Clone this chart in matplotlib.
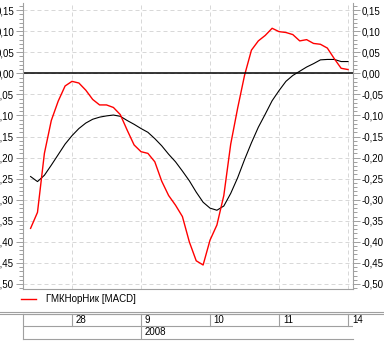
import matplotlib
matplotlib.use("Agg")
import matplotlib.pyplot as plt
from matplotlib.lines import Line2D
from matplotlib.ticker import MultipleLocator, FuncFormatter

# données (une valeur par séance)
macd = [-0.368, -0.330, -0.190, -0.112, -0.066, -0.030, -0.019, -0.023, -0.040, -0.062,
        -0.075, -0.075, -0.081, -0.098, -0.135, -0.170, -0.186, -0.190, -0.210, -0.256,
        -0.290, -0.313, -0.340, -0.400, -0.445, -0.455, -0.396, -0.360, -0.290, -0.168,
        -0.083, -0.005, 0.055, 0.077, 0.090, 0.107, 0.099, 0.097, 0.092, 0.077,
        0.080, 0.071, 0.069, 0.060, 0.035, 0.012, 0.009]
signal = [-0.245, -0.257, -0.242, -0.218, -0.193, -0.168, -0.148, -0.131, -0.118, -0.109,
          -0.104, -0.101, -0.099, -0.102, -0.112, -0.121, -0.131, -0.140, -0.155, -0.172,
          -0.192, -0.210, -0.232, -0.255, -0.282, -0.306, -0.320, -0.325, -0.315, -0.285,
          -0.248, -0.205, -0.165, -0.128, -0.097, -0.065, -0.041, -0.019, -0.005, 0.005,
          0.015, 0.023, 0.032, 0.033, 0.033, 0.028, 0.028]
tick_pos = [6, 16, 26, 36, 46]
tick_labels = ["28", "9", "10", "11", "14"]
year_pos = 16
year_label = "2008"
legend_label = "ГМКНорНик [MACD]"

W, H = 384, 346
GRAY = "#a0a0a0"
GRID = "#d8d8d8"
FONT = "Liberation Sans"

fig = plt.figure(figsize=(W / 100, H / 100), dpi=100)
fig.patch.set_facecolor("white")

# zone principale
ax = fig.add_axes([23 / W, 1 - 289 / H, 330 / W, 286 / H])
x = list(range(len(macd)))
ax.plot(x, signal, color="black", lw=0.8)
ax.plot(x, macd, color="#ff0000", lw=1.0)
ax.axhline(0, color="black", lw=1.1)

ax.set_xlim(-1.1, 46.72)
ax.set_ylim(-0.512, 0.167)
ax.set_xticks(tick_pos)
ax.yaxis.set_major_locator(MultipleLocator(0.05))
ax.yaxis.set_minor_locator(MultipleLocator(0.01))
ax.yaxis.set_major_formatter(FuncFormatter(lambda v, p: f"{v:.2f}".replace(".", ",")))
ax.tick_params(axis="x", length=0, labelbottom=False)
ax.tick_params(axis="y", which="major", length=5, width=0.7, color=GRAY, pad=1.5,
               labelsize=7, left=True, right=True, labelleft=True, labelright=True)
ax.tick_params(axis="y", which="minor", length=3, width=0.7, color=GRAY, left=True, right=True)
for lab in ax.get_yticklabels():
    lab.set_fontfamily(FONT)
ax.grid(True, which="major", color=GRID, lw=0.72, linestyle=(0, (4, 3)))
ax.set_axisbelow(True)
for side in ["left", "right", "bottom"]:
    ax.spines[side].set_color(GRAY)
    ax.spines[side].set_linewidth(0.8)
ax.spines["top"].set_visible(False)

# légende
fig.add_artist(Line2D([21 / W, 36 / W], [1 - 299 / H] * 2, color="#ff0000", lw=1.0,
                      transform=fig.transFigure))
fig.text(46 / W, 1 - 299 / H, legend_label, fontsize=7, fontfamily=FONT, va="center")

# séparateur double
for yy in [311.5, 314]:
    fig.add_artist(Line2D([0, 1], [1 - yy / H] * 2, color=GRAY, lw=0.8,
                          transform=fig.transFigure))

# tableau des dates
tab = fig.add_axes([23 / W, 1 - 338.5 / H, 330 / W, 24.5 / H], sharex=ax)
tab.set_ylim(0, 2)
tab.axhline(1, color=GRAY, lw=0.8)
for p, lab in zip(tick_pos, tick_labels):
    tab.plot([p, p], [1, 2], color=GRAY, lw=0.8, clip_on=False)
    tab.text(p + 0.55, 1.5, lab, fontsize=7, fontfamily=FONT, va="center", clip_on=False)
tab.plot([year_pos, year_pos], [0, 1], color=GRAY, lw=0.8)
tab.text(year_pos + 0.55, 0.5, year_label, fontsize=7, fontfamily=FONT, va="center")
tab.tick_params(left=False, bottom=False, labelleft=False, labelbottom=False)
for side in ["left", "bottom", "top"]:
    tab.spines[side].set_color(GRAY)
    tab.spines[side].set_linewidth(0.8)
tab.spines["right"].set_visible(False)

fig.savefig("out.png", dpi=100)
